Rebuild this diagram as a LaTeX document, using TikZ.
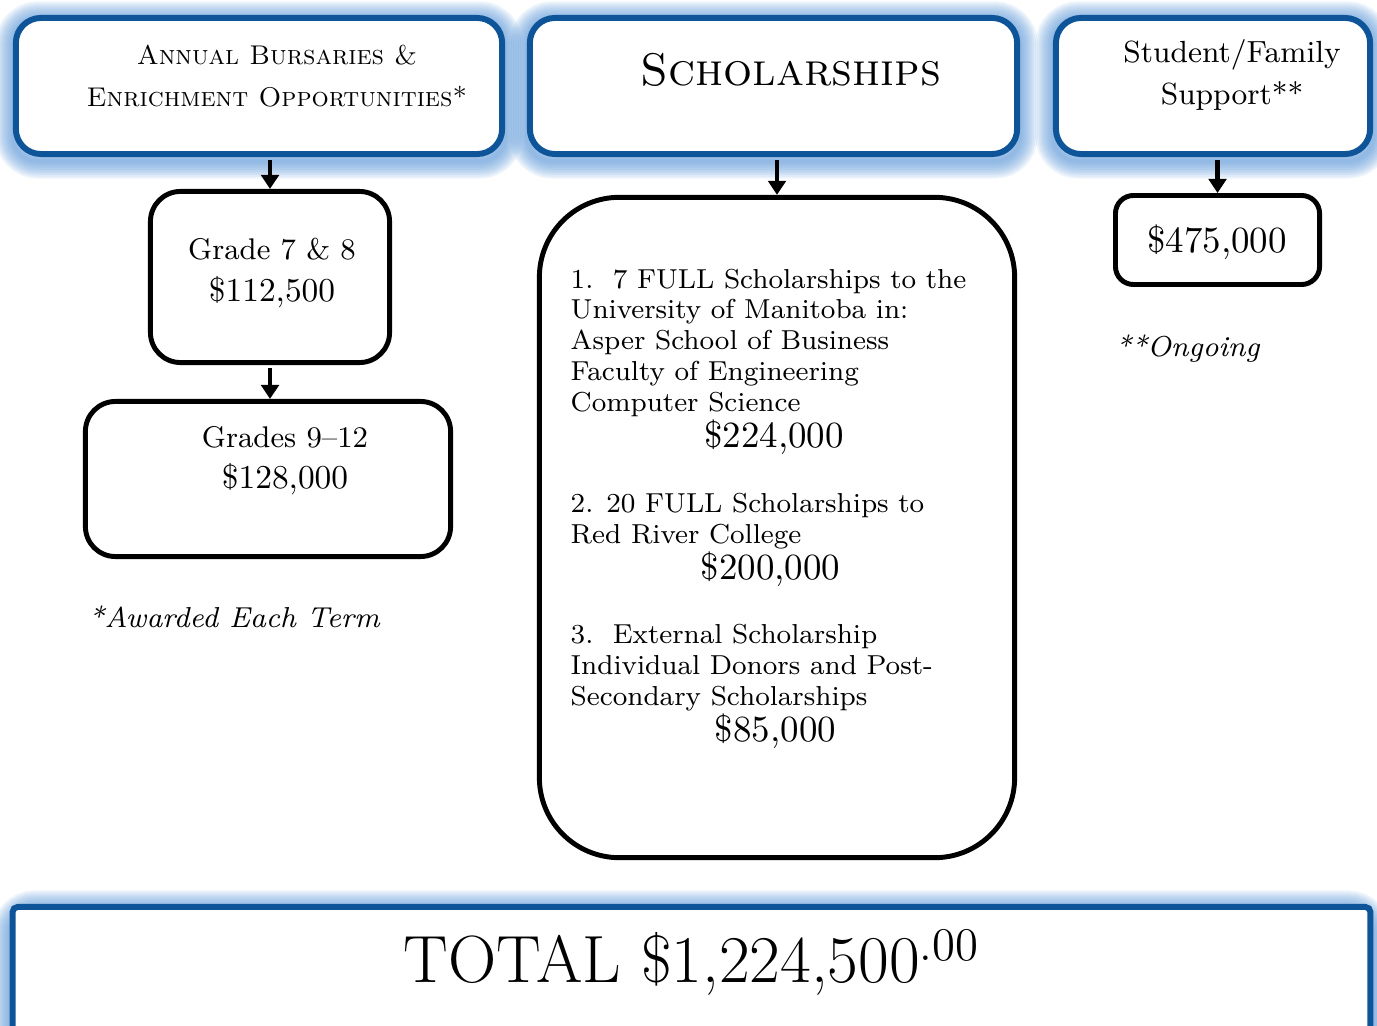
\documentclass[tikz,border=0pt]{standalone}
\usepackage{fontspec}
\usetikzlibrary{positioning,arrows.meta,backgrounds}
\definecolor{boxblue}{RGB}{14,84,153}
\definecolor{glowblue}{RGB}{90,150,215}
\tikzset{
  headbox/.style={draw=boxblue, line width=1.7pt, rounded corners=0.25cm, fill=white, inner sep=0pt},
  amountbox/.style={draw=black, line width=1.4pt, fill=white, inner sep=0pt},
  flow/.style={-{Triangle[width=5pt,length=4pt]}, line width=1.2pt, shorten <=0.9pt},
  glow/.style={draw=glowblue, opacity=0.1, rounded corners=0.25cm},
  note/.style={font=\fontsize{8.2}{11}\selectfont\itshape, anchor=west, inner sep=0pt},
}
\newcommand{\amt}{\fontsize{10.5}{8.8}\selectfont}
\newcommand{\listfont}{\fontsize{7.8}{8.8}\selectfont\setlength{\lineskiplimit}{-10pt}}
\begin{document}
\begin{tikzpicture}[x=0.01cm, y=-0.01cm]
    \useasboundingbox (0,0) rectangle (1377,1025);
    \clip (0,0) rectangle (1377,1025);
    % top row
    \node[headbox, minimum width=4.86cm, minimum height=1.36cm] (bursary) at (259,86) {};
    \node[headbox, minimum width=4.87cm, minimum height=1.36cm] (schol) at (773.5,86) {};
    \node[headbox, minimum width=3.14cm, minimum height=1.36cm] (support) at (1213,86) {};
    % amounts
    \node[amountbox, rounded corners=0.3cm, minimum width=2.39cm, minimum height=1.71cm] (junior) at (270,277) {};
    \node[amountbox, rounded corners=0.3cm, minimum width=3.65cm, minimum height=1.55cm] (senior) at (268,479) {};
    \node[amountbox, rounded corners=0.8cm, minimum width=4.75cm, minimum height=6.60cm] (schollist) at (777,527.5) {};
    \node[amountbox, rounded corners=0.18cm, minimum width=2.04cm, minimum height=0.89cm] (family) at (1217.5,240) {};
    % total
    \node[headbox, rounded corners=0.05cm, minimum width=13.57cm, minimum height=1.4cm] (total) at (691.5,977) {};

    \begin{scope}[on background layer]
      \foreach \hdr in {bursary,schol,support,total}
        \foreach \w in {1,...,10}
          \draw[glow, line width=\w pt] ([yshift=-0.04cm]\hdr.south west) rectangle ([yshift=-0.04cm]\hdr.north east);
    \end{scope}

    % texts
    \node[font=\fontsize{7.7}{12}\selectfont\scshape, align=center] (bursarytxt) at (277,76) {Annual Bursaries \&\\Enrichment Opportunities*};
    \node[font=\fontsize{13}{16}\selectfont\scshape] (scholtxt) at (791,70) {Scholarships};
    \node[font=\fontsize{8.7}{12}\selectfont, align=center] (supporttxt) at (1232,75) {Student/Family\\Support**};
    \node[font=\fontsize{8.5}{11.7}\selectfont, align=center] (juniortxt) at (272,273) {Grade 7 \& 8\\{\fontsize{9.5}{11.7}\selectfont\$112,500}};
    \node[font=\fontsize{8.5}{11.7}\selectfont, align=center] (seniortxt) at (285,461) {Grades 9--12\\{\fontsize{9.5}{11.7}\selectfont\$128,000}};
    \node[font=\fontsize{10.5}{14}\selectfont] (familytxt) at (1217,242) {\$475,000};
    \node[font=\listfont, align=left, anchor=north west, inner sep=0pt] (schollisttxt) at (570,268) {%
      1.\ \ 7 FULL Scholarships to the\\
      University of Manitoba in:\\
      Asper School of Business\\
      Faculty of Engineering\\
      Computer Science\\[1.4pt]
      \hspace*{38pt}{\amt\$224,000}\\[9.6pt]
      2. 20 FULL Scholarships to\\
      Red River College\\[1.4pt]
      \hspace*{37pt}{\amt\$200,000}\\[9.6pt]
      3.\ \ External Scholarship\\
      Individual Donors and Post-\\
      Secondary Scholarships\\[1.4pt]
      \hspace*{41pt}{\amt\$85,000}};
    \node[note] (termnote) at (88,617) {*Awarded Each Term};
    \node[note] (ongoingnote) at (1115,349) {**Ongoing};
    \node[font=\fontsize{19}{22}\selectfont] (totaltxt) at (692,962) {TOTAL \$1,224,500\textsuperscript{.00}};

    % arrows
    \draw[flow] (junior.north |- bursary.south) -- (junior.north);
    \draw[flow] (junior.south) -- (junior.south |- senior.north);
    \draw[flow] (schollist.north |- schol.south) -- (schollist.north);
    \draw[flow] (family.north |- support.south) -- (family.north);
\end{tikzpicture}
\end{document}
